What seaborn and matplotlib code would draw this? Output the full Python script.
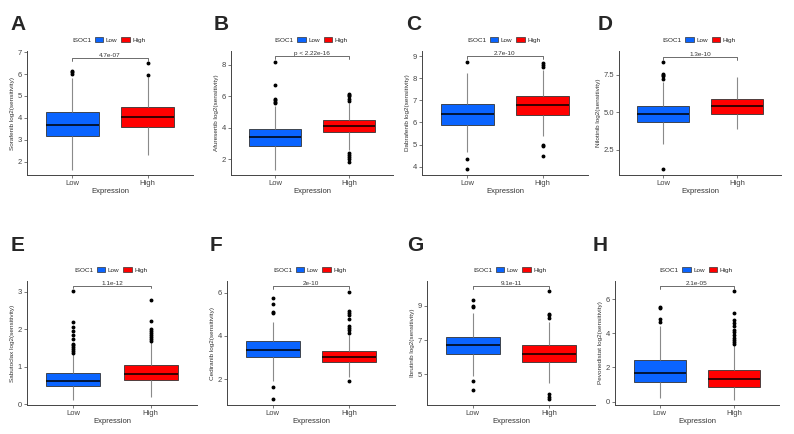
"""
Drug sensitivity boxplots for ISOC1 Low vs High expression groups
"""

# Import libraries

import pandas as pd
import seaborn as sns
import matplotlib.pyplot as plt
from matplotlib.patches import Patch

# Data: box summaries
# (low outliers, lower whisker, q1, median, q3, upper whisker, high outliers)

panels = ['A', 'B', 'C', 'D', 'E', 'F', 'G', 'H']
drugs = ['Sorafenib', 'Afuresertib', 'Dabrafenib', 'Nilotinib',
         'Sabutoclax', 'Cediranib', 'Ibrutinib', 'Pevonedistat']
pvalues = ['4.7e-07', 'p < 2.22e-16', '2.7e-10', '1.3e-10',
           '1.1e-12', '2e-10', '9.1e-11', '2.1e-05']

low_boxes = [
    ([], 1.62, 3.19, 3.70, 4.25, 5.80, [6.0, 6.09, 6.16]),
    ([], 1.32, 2.85, 3.40, 3.91, 5.40, [5.55, 5.65, 5.75, 5.8, 6.72, 8.2]),
    ([3.88, 4.35], 4.68, 5.88, 6.39, 6.86, 8.23, [8.75]),
    ([1.19], 2.88, 4.36, 4.87, 5.44, 7.00, [7.25, 7.4, 7.5, 7.55, 8.35]),
    ([], 0.12, 0.48, 0.63, 0.83, 1.33,
     [1.37, 1.42, 1.47, 1.52, 1.57, 1.62, 1.75, 1.85, 1.95, 2.05, 2.2, 3.02]),
    ([1.08, 1.62], 1.90, 3.00, 3.35, 3.77, 4.62, [5.05, 5.1, 5.46, 5.77]),
    ([4.06, 4.57], 4.90, 6.17, 6.72, 7.20, 8.61, [8.94, 9.0, 9.33]),
    ([], 0.20, 1.12, 1.67, 2.45, 4.40, [4.65, 4.85, 5.45, 5.55]),
]
high_boxes = [
    ([], 2.30, 3.58, 4.03, 4.51, 5.85, [5.95, 6.49]),
    ([1.8, 2.0, 2.17, 2.28, 2.38], 2.60, 3.70, 4.09, 4.47, 5.60,
     [5.7, 5.8, 6.0, 6.1, 6.15]),
    ([4.46, 4.95, 5.0], 5.40, 6.33, 6.81, 7.19, 8.40, [8.5, 8.6, 8.7]),
    ([], 3.91, 4.89, 5.39, 5.90, 7.35, []),
    ([], 0.20, 0.64, 0.82, 1.05, 1.65,
     [1.7, 1.75, 1.8, 1.85, 1.9, 1.95, 2.0, 2.22, 2.77]),
    ([1.92], 2.10, 2.80, 3.03, 3.31, 4.05,
     [4.15, 4.25, 4.35, 4.45, 4.8, 4.95, 5.05, 5.15, 6.05]),
    ([3.54, 3.67, 3.83], 4.47, 5.74, 6.17, 6.72, 8.08, [8.3, 8.45, 8.55, 9.88]),
    ([], 0.10, 0.84, 1.35, 1.84, 3.30,
     [3.4, 3.5, 3.6, 3.75, 3.9, 4.05, 4.2, 4.4, 4.6, 4.8, 5.2, 6.45]),
]

bracket_y = [6.73, 8.55, 9.03, 8.70, 3.16, 6.31, 10.17, 6.76]
bracket_drop = [0.15, 0.21, 0.15, 0.22, 0.07, 0.13, 0.16, 0.16]

y_limits = [(1.4, 7.05), (1.0, 8.87), (3.62, 9.24), (0.81, 9.1),
            (-0.02, 3.29), (0.8, 6.54), (3.19, 10.46), (-0.2, 7.06)]
y_ticks = [[2, 3, 4, 5, 6, 7], [2, 4, 6, 8], [4, 5, 6, 7, 8, 9], [2.5, 5.0, 7.5],
           [0, 1, 2, 3], [2, 4, 6], [5, 7, 9], [0, 2, 4, 6]]
y_ticklabels = [None, None, None, ['2.5', '5.0', '7.5'], None, None, None, None]

groups = ['Low', 'High']
colors = {'Low': '#0A64FF', 'High': '#FF0000'}


def box_sample(stats, k=40):
    # expand a box summary into a sample with exactly these quartiles/whiskers
    lo_out, wlo, q1, med, q3, whi, hi_out = stats
    lower = sorted(lo_out) + [wlo]
    upper = [whi] + sorted(hi_out)
    s = lower + [q1] * (k + 1 - len(lower))
    s += [med] * k
    s += [q3] * k
    s += [q3] * (k - len(upper)) + upper
    return s


# Axes positions in pixels (left, right) per column, (top, bottom) per row

W, H = 794, 434
cols_px = [[(27, 193), (231, 393), (422, 588), (619, 781)],
           [(27, 197), (227, 395), (427, 595), (615, 779)]]
rows_px = [(51, 175), (281, 405)]
letter_px = [(10, 30), (214, 30), (406, 30), (598, 30),
             (11, 251), (210, 251), (407, 251), (593, 251)]

sns.set_style('white')
plt.rcParams['font.family'] = ['Liberation Sans', 'DejaVu Sans']

fig = plt.figure(figsize=(W / 100, H / 100), dpi=100)

for i in range(8):
    r, c = divmod(i, 4)
    x0, x1 = cols_px[r][c]
    t, b = rows_px[r]
    ax = fig.add_axes([x0 / W, 1 - b / H, (x1 - x0) / W, (b - t) / H])

    df = pd.DataFrame({
        'Expression': ['Low'] * 161 + ['High'] * 161,
        'value': box_sample(low_boxes[i]) + box_sample(high_boxes[i]),
    })

    sns.boxplot(data=df, x='Expression', y='value', hue='Expression',
                order=groups, hue_order=groups, palette=colors, width=0.7,
                saturation=1, linewidth=0.6, linecolor='#333333',
                showcaps=False,
                whiskerprops={'color': '#8a8a8a', 'linewidth': 0.8},
                medianprops={'color': 'black', 'linewidth': 1.1},
                flierprops={'marker': 'o', 'markersize': 1.8,
                            'markerfacecolor': 'black',
                            'markeredgecolor': 'black'},
                legend=False, ax=ax)

    # significance bracket
    yb = bracket_y[i]
    d = bracket_drop[i]
    ax.plot([0, 0, 1, 1], [yb - d, yb, yb, yb - d], color='#555555', lw=0.6)
    ax.text(0.5, yb, pvalues[i], ha='center', va='bottom', fontsize=4.6,
            color='#333333')

    ax.set_xlim(-0.6, 1.6)
    ax.set_ylim(*y_limits[i])
    ax.set_yticks(y_ticks[i])
    if y_ticklabels[i] is not None:
        ax.set_yticklabels(y_ticklabels[i])
    ax.set_xlabel('Expression', fontsize=5.5, color='#333333', labelpad=1)
    ax.set_ylabel(drugs[i] + ' log2(sensitivity)', fontsize=4.6,
                  color='#333333', labelpad=2)
    ax.tick_params(axis='both', labelsize=5.5, colors='#444444', length=2,
                   width=0.5, pad=1.5, left=True, bottom=True)
    for s in ['top', 'right']:
        ax.spines[s].set_visible(False)
    for s in ['left', 'bottom']:
        ax.spines[s].set_color('#444444')
        ax.spines[s].set_linewidth(0.7)

    # legend on top: ISOC1 [Low] [High]
    handles = [Patch(visible=False)] + \
        [Patch(facecolor=colors[g], edgecolor='#333333', lw=0.5) for g in groups]
    ax.legend(handles, ['ISOC1'] + groups, ncol=3, loc='lower center',
              bbox_to_anchor=(0.46, 1.04), frameon=False, fontsize=4.6,
              handlelength=1.3, handleheight=0.9, handletextpad=0.4,
              columnspacing=0.6, borderpad=0)

    lx, ly = letter_px[i]
    fig.text(lx / W, 1 - ly / H, panels[i], fontsize=15, fontweight='bold',
             ha='left', va='baseline')

plt.savefig('out.png', dpi=100)
